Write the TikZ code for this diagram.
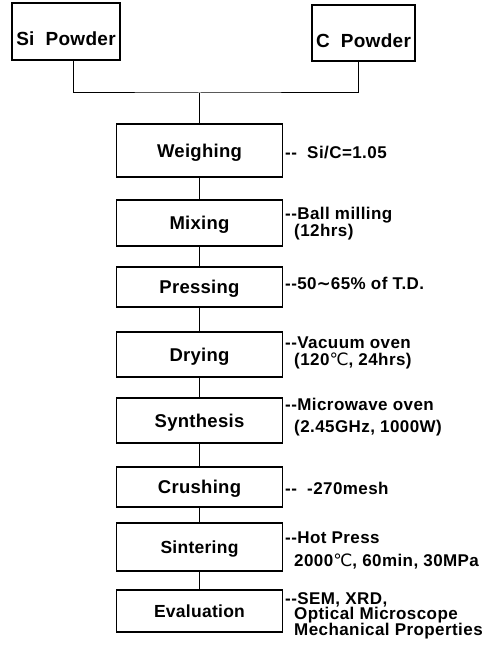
\documentclass[tikz,border=0pt]{standalone}
\usepackage{fontspec}
\setmainfont{Liberation Sans}
\newfontfamily\symf{DejaVu Sans}[BoldFont={DejaVu Sans Bold}]
\newfontfamily\notef{Liberation Sans}[LetterSpace=2.5]
\newfontfamily\labf{Liberation Sans}[LetterSpace=1.5]
\begin{document}
\begin{tikzpicture}[x=1pt,y=-1pt,
  box/.style={draw, line width=1.1pt, inner sep=0pt, text height=13.5pt, text depth=0pt,
    font=\labf\fontsize{18.5}{22}\selectfont\bfseries},
  sbox/.style={box, font=\labf\fontsize{17.5}{20}\selectfont\bfseries, text height=12.5pt},
  pbox/.style={box, font=\labf\fontsize{19}{22}\selectfont\bfseries, text height=29pt},
  conn/.style={line width=1pt},
  note/.style={anchor=base west, inner sep=0pt, font=\notef\fontsize{17}{18}\selectfont\bfseries}]
\useasboundingbox (0,0) rectangle (488,650);
% powder boxes
\node[pbox, minimum width=108pt, minimum height=57pt] (si) at (66,31.5) {Si\ \ Powder};
\node[pbox, minimum width=103pt, minimum height=56pt] (cp) at (363.5,33) {C\ \ Powder};
% process boxes
\node[box, minimum width=166pt, minimum height=53pt] (w) at (199.5,150.5) {Weighing};
\node[box, minimum width=166pt, minimum height=46pt] (m) at (199.5,223) {Mixing};
\node[box, minimum width=166pt, minimum height=40pt] (p) at (199.5,287) {Pressing};
\node[box, minimum width=166pt, minimum height=45pt] (d) at (199.5,354.5) {Drying};
\node[box, minimum width=166pt, minimum height=45pt] (s) at (199.5,420.5) {Synthesis};
\node[box, minimum width=166pt, minimum height=40pt] (c) at (199.5,487) {Crushing};
\node[sbox, minimum width=166pt, minimum height=48pt] (t) at (199.5,547) {Sintering};
\node[sbox, minimum width=166pt, minimum height=42pt] (e) at (199.5,611) {Evaluation};
% connectors
\coordinate (j) at (199.5,93);
\draw[conn] ([xshift=7pt]si.south) |- (j) -| ([xshift=-5.5pt]cp.south);
\draw[conn] (j) -- (w.north);
\draw[conn] (w.south) -- (m.north);
\draw[conn] (m.south) -- (p.north);
\draw[conn] (p.south) -- (d.north);
\draw[conn] (d.south) -- (s.north);
\draw[conn] (s.south) -- (c.north);
\draw[conn] (c.south) -- (t.north);
\draw[conn] (t.south) -- (e.north);
% notes
\node[note] (wn) at (285,158.5) {-{}-\ \ Si/C=1.05};
\node[note] (mn1) at (285,219) {-{}-Ball milling};
\node[note] (mn2) at (294,236) {(12hrs)};
\node[note] (pn) at (285,289) {-{}-50{\symf\bfseries ∼}65\% of T.D.};
\node[note] (dn1) at (285,348) {-{}-Vacuum oven};
\node[note] (dn2) at (294,365) {(120{\symf\mdseries ℃}, 24hrs)};
\node[note] (sn1) at (285,410.5) {-{}-Microwave oven};
\node[note] (sn2) at (294,432) {(2.45GHz, 1000W)};
\node[note] (cn) at (285,494) {-{}-\ \ -270mesh};
\node[note] (tn1) at (285,543) {-{}-Hot Press};
\node[note] (tn2) at (294,566) {2000{\symf\mdseries ℃}, 60min, 30MPa};
\node[note] (en1) at (285,604) {-{}-SEM, XRD,};
\node[note] (en2) at (294,619.5) {Optical Microscope};
\node[note] (en3) at (294,635) {Mechanical Properties};
\end{tikzpicture}
\end{document}
